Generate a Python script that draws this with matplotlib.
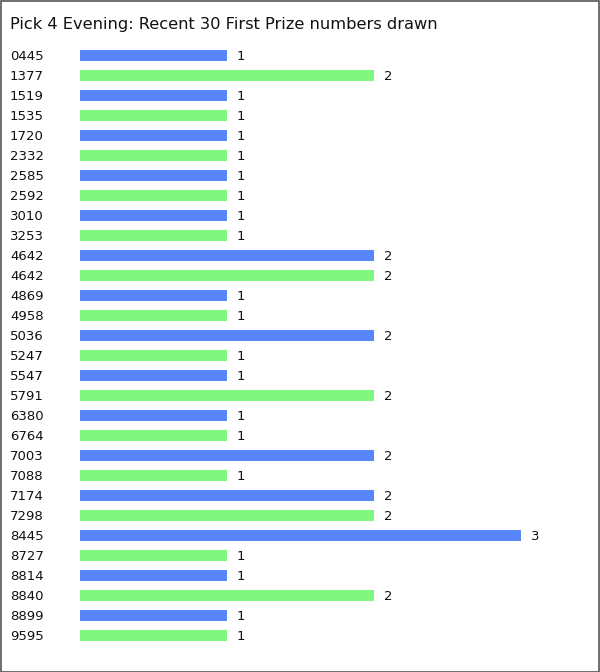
import matplotlib
matplotlib.use("Agg")
import matplotlib.pyplot as plt
from matplotlib.patches import Rectangle

numbers = ["0445", "1377", "1519", "1535", "1720", "2332", "2585", "2592", "3010", "3253",
           "4642", "4642", "4869", "4958", "5036", "5247", "5547", "5791", "6380", "6764",
           "7003", "7088", "7174", "7298", "8445", "8727", "8814", "8840", "8899", "9595"]
counts = [1, 2, 1, 1, 1, 1, 1, 1, 1, 1,
          2, 2, 1, 1, 2, 1, 1, 2, 1, 1,
          2, 1, 2, 2, 3, 1, 1, 2, 1, 1]
title = "Pick 4 Evening: Recent 30 First Prize numbers drawn"

blue = "#5986fa"
green = "#80f880"

W, H = 600, 672
fig = plt.figure(figsize=(W / 100, H / 100), dpi=100)
fig.patch.set_facecolor("white")

# axes placed in pixel terms: bars start at x=80, rows 20px apart from y=45
ax = fig.add_axes([80 / W, (H - 645) / H, 500 / W, 600 / H])
ax.set_xlim(0, 500 / 147)
ax.set_ylim(len(numbers) - 0.5, -0.5)
ax.axis("off")

ypos = list(range(len(numbers)))
colors = [blue if i % 2 == 0 else green for i in ypos]
ax.barh(ypos, counts, height=0.55, color=colors)

for y, c, n in zip(ypos, counts, numbers):
    ax.annotate(str(c), (c, y), xytext=(7, -0.8), textcoords="offset points",
                va="center", ha="left", fontsize=9.5, color="#111111")
    fig.text(10 / W, 1 - (56 + 20 * y) / H, n, va="center", ha="left",
             fontsize=9.5, color="#111111")

fig.text(10 / W, 1 - 24.5 / H, title, va="center", ha="left", fontsize=11.7, color="#111111")

fig.patches.append(Rectangle((0.5 / W, 0.5 / H), 1 - 1.5 / W, 1 - 1.5 / H,
                             transform=fig.transFigure, fill=False,
                             edgecolor="#555555", linewidth=1.2))

fig.savefig("out.png", dpi=100)
